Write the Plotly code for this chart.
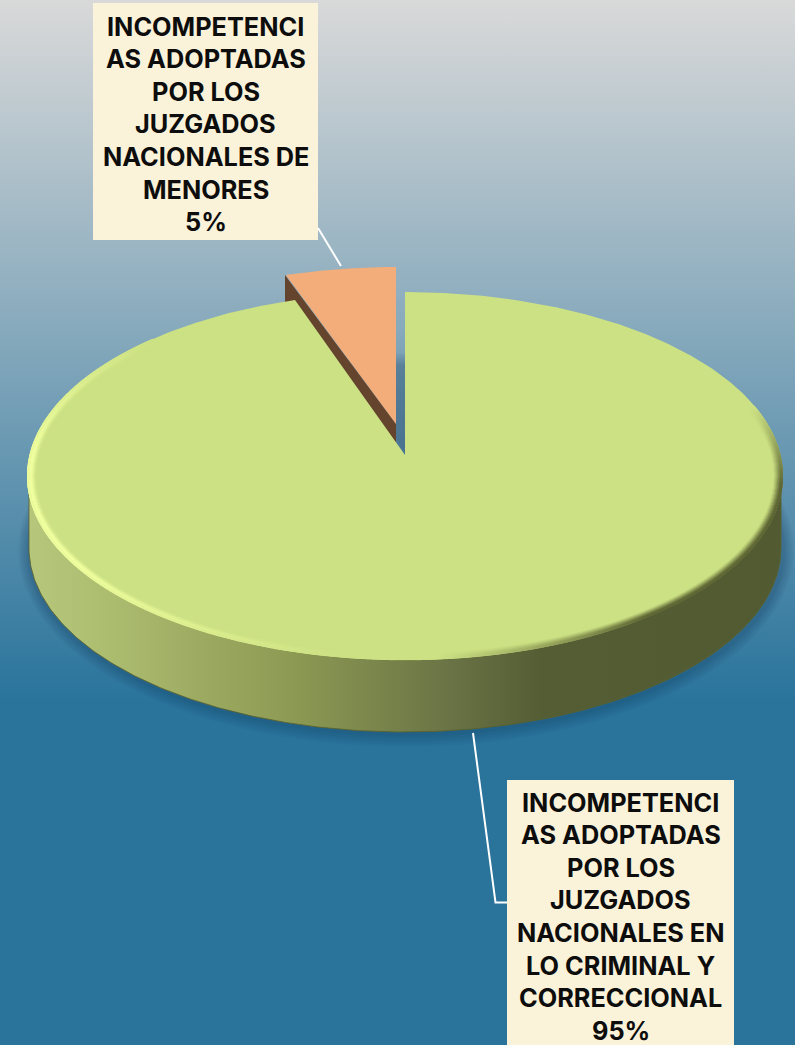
import numpy as np
import plotly.graph_objects as go

# ---- data ----
categories = ["Juzgados Nacionales en lo Criminal y Correccional", "Juzgados Nacionales de Menores"]
values = [95.3, 4.7]
label_main = ["INCOMPETENCI", "AS ADOPTADAS", "POR LOS", "JUZGADOS", "NACIONALES EN", "LO CRIMINAL Y", "CORRECCIONAL"]
label_small = ["INCOMPETENCI", "AS ADOPTADAS", "POR LOS", "JUZGADOS", "NACIONALES DE", "MENORES"]

W, H = 795, 1045
CX, CY, RX, RY = 405, 476, 378, 184
DEPTH = 72
APEX = (405, 455)
EXPLODE = (-9, -25)
APEX_SMALL = (396, 424)

FONT = "Inter"
FS = 25.3
LINE = 32.65


def mix(a, b, k):
    return tuple(a[i] + (b[i] - a[i]) * k for i in range(3))


def css(c):
    return "rgb(%d,%d,%d)" % tuple(int(round(v)) for v in c)


def arc(t0, t1, n=300, rx=RX, ry=RY, cx=CX, cy=CY):
    t = np.radians(np.linspace(t0, t1, n))
    return cx + rx * np.sin(t), cy - ry * np.cos(t)


small_angle = 360.0 * values[1] / sum(values)
fig = go.Figure()
NOHOVER = dict(hoverinfo="skip", showlegend=False)

# background
fig.add_trace(go.Scatter(
    x=[0, W, W, 0, 0], y=[0, 0, H, H, 0], mode="lines", line=dict(width=0),
    fill="toself",
    fillgradient=dict(type="vertical", start=0, stop=H,
                      colorscale=[[0, "#d9d9d9"], [0.67, "#2a749c"], [1, "#2a749c"]]),
    **NOHOVER))

# soft shadow under the disc
for grow in (16, 13, 10, 7, 4, 2):
    sx, sy = arc(0, 360, 300, RX + grow * 0.6, RY + grow * 0.8, CX + 1, CY + DEPTH + 2)
    fig.add_trace(go.Scatter(x=sx, y=sy, mode="lines", line=dict(width=0), fill="toself",
                             fillcolor="rgba(25,55,85,0.055)", **NOHOVER))

# exploded slice: side, then top
ax, ay = arc(-small_angle, 0, 80, cx=CX + EXPLODE[0], cy=CY + EXPLODE[1])
fig.add_trace(go.Scatter(
    x=[ax[0] - 1, APEX_SMALL[0], APEX_SMALL[0], ax[0] - 1, ax[0] - 1],
    y=[ay[0], APEX_SMALL[1], APEX_SMALL[1] + DEPTH, ay[0] + DEPTH, ay[0]],
    mode="lines", line=dict(width=0), fill="toself", fillcolor="#64442c", **NOHOVER))
fig.add_trace(go.Scatter(
    x=np.r_[APEX_SMALL[0], ax, APEX_SMALL[0]], y=np.r_[APEX_SMALL[1], ay, APEX_SMALL[1]],
    mode="lines", line=dict(width=0), fill="toself", fillcolor="#f2ad7a", name=categories[1],
    showlegend=False, hoverinfo="skip"))

# shadow in the gap between the slices
fig.add_trace(go.Scatter(
    x=[APEX_SMALL[0], APEX[0], APEX[0], APEX_SMALL[0], APEX_SMALL[0]],
    y=[333, 333, APEX[1], APEX_SMALL[1] + 14, 333],
    mode="lines", line=dict(width=0), fill="toself",
    fillgradient=dict(type="vertical", start=333, stop=APEX[1],
                      colorscale=[[0, "rgba(30,60,90,0)"], [0.3, "rgba(30,60,90,0.05)"], [1, "rgba(30,60,90,0.12)"]]),
    **NOHOVER))

# main slice: wall
bx, by = arc(90, 270, 300, RX - 2, RY, CX, CY + DEPTH)
tx, ty = arc(270, 90, 300, RX - 2, RY, CX, CY)
fig.add_trace(go.Scatter(
    x=np.r_[bx, tx, bx[0]], y=np.r_[by, ty, by[0]], mode="lines",
    line=dict(width=1, color="rgba(90,98,45,0.85)"), fill="toself",
    fillgradient=dict(type="horizontal", start=30, stop=781,
                      colorscale=[[0, "#b6c77c"], [0.1, "#adbd70"], [0.36, "#8b9852"],
                                  [0.55, "#6b7546"], [0.68, "#555d34"], [1, "#525a32"]]),
    **NOHOVER))

# main slice: top
mx, my = arc(0, 360 - small_angle, 700)
fig.add_trace(go.Scatter(
    x=np.r_[APEX[0], mx, APEX[0]], y=np.r_[APEX[1], my, APEX[1]], mode="lines",
    line=dict(width=0), fill="toself", fillcolor="#cce184", name=categories[0],
    showlegend=False, hoverinfo="skip"))

# bevel along the rim
GREEN = (204, 225, 132)
BRIGHT = (240, 255, 160)
DARK = (96, 104, 54)
A0, A1 = 68, 318
for inset, lit, shade in [(8, .1, .08), (7, .25, .2), (6, .45, .35), (5, .7, .5), (4, .9, .65),
                          (3, 1, .8), (2, 1, .9), (1.2, .85, 1)]:
    angles = np.linspace(A0, A1, 1500)
    lit_k = np.clip((angles - 190) / 50, 0, 1) * np.clip((A1 - angles) / 40, 0, 1)
    dark_k = np.clip((175 - angles) / 35, 0, 1) * np.clip((angles - A0) / 25, 0, 1)
    cols = [css(mix(mix(GREEN, BRIGHT, lit * l), DARK, shade * d)) for l, d in zip(lit_k, dark_k)]
    ex, ey = arc(A0, A1, 1500, RX - inset, RY - inset * 0.75)
    fig.add_trace(go.Scatter(x=ex, y=ey, mode="markers",
                             marker=dict(size=2.4, color=cols, line=dict(width=0)), **NOHOVER))

# leader lines
for lx, ly in [([318, 341], [228, 266]), ([473, 495.5, 507], [733, 902.5, 902.5])]:
    fig.add_trace(go.Scatter(x=lx, y=ly, mode="lines", line=dict(color="white", width=2), **NOHOVER))

# label boxes
BOX = "#faf3da"
shapes = [
    dict(type="rect", x0=93, x1=318, y0=3, y1=240, xref="x", yref="y", fillcolor=BOX, line_width=0, layer="above"),
    dict(type="rect", x0=507, x1=734, y0=780, y1=H, xref="x", yref="y", fillcolor=BOX, line_width=0, layer="above"),
]


def label(lines, value, x, y):
    return [dict(text=t, x=x, y=y + i * LINE, xref="x", yref="y",
                 xanchor="center", yanchor="middle", align="center", showarrow=False,
                 font=dict(family=FONT, size=FS, color="#0d0d0d", weight=700))
            for i, t in enumerate(lines + ["%d%%" % round(value)])]


annotations = label(label_small, values[1], 205.5, 26) + label(label_main, values[0], 620.5, 802)

fig.update_layout(
    width=W, height=H, margin=dict(l=0, r=0, t=0, b=0), autosize=False, showlegend=False,
    paper_bgcolor="#2a749c", plot_bgcolor="#2a749c", shapes=shapes, annotations=annotations,
    xaxis=dict(range=[0, W], visible=False, fixedrange=True),
    yaxis=dict(range=[H, 0], visible=False, fixedrange=True),
)
fig.write_html("out.html", config=dict(displayModeBar=False, staticPlot=True),
               post_script="document.body.style.margin='0';document.body.style.overflow='hidden';")
